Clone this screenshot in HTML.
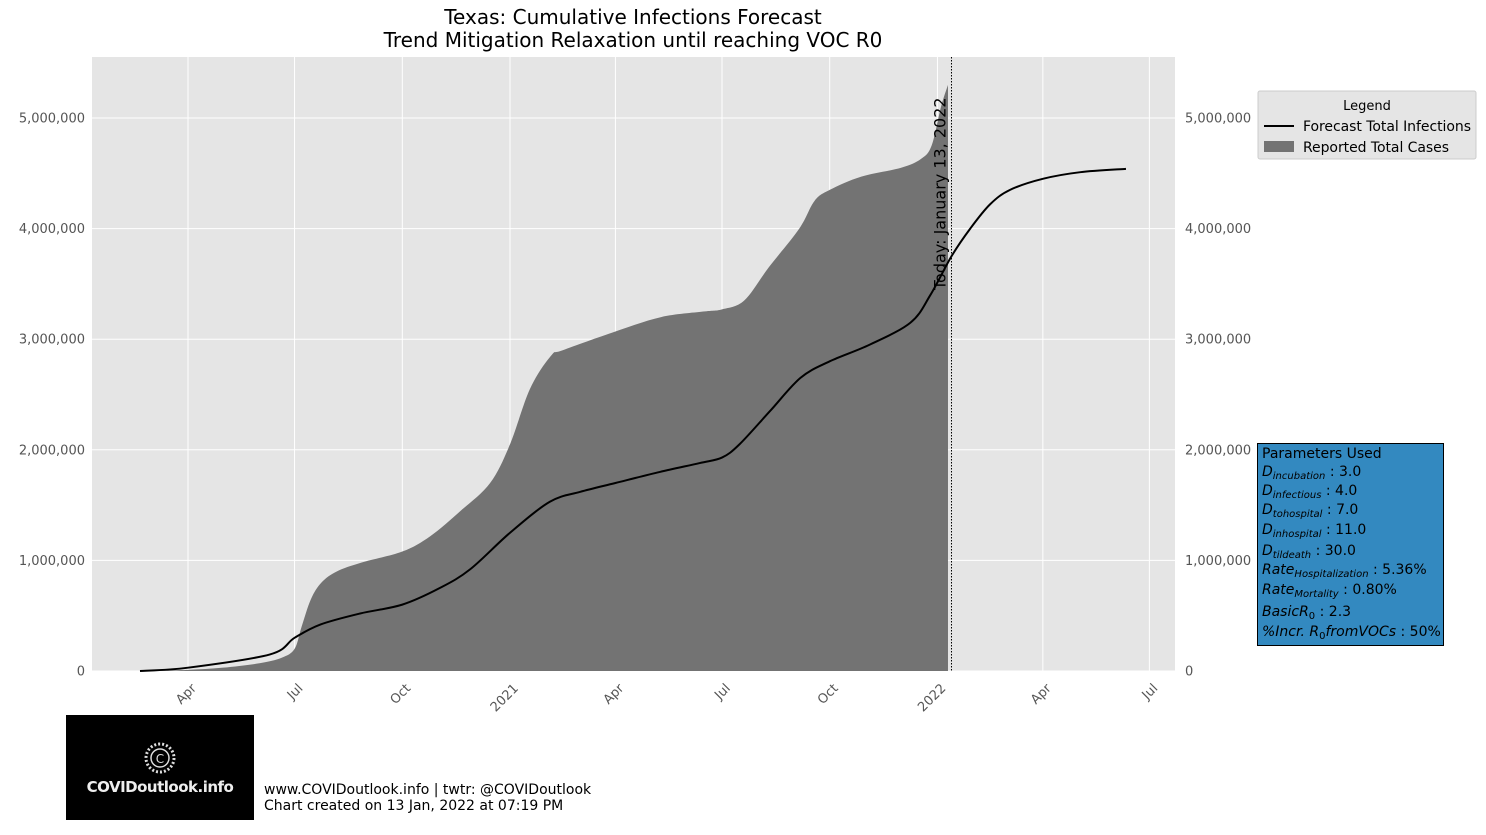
<!DOCTYPE html>
<html><head><meta charset="utf-8"><style>
body{margin:0;background:#fff;font-family:"Liberation Sans","DejaVu Sans",sans-serif}
svg text{font-family:"DejaVu Sans","Liberation Sans",sans-serif}
</style></head><body>
<svg id="chart" width="1486" height="830" xmlns="http://www.w3.org/2000/svg">
<rect width="1486" height="830" fill="#fff"/>
<text x="633" y="24" font-size="20" text-anchor="middle">Texas: Cumulative Infections Forecast</text>
<text x="633" y="47" font-size="20" text-anchor="middle">Trend Mitigation Relaxation until reaching VOC R0</text>
<rect x="92" y="57" width="1083" height="614" fill="#e5e5e5"/>
<g id="grid"></g><g id="marks"></g><g id="axes"></g>
<g>
<rect x="1258" y="91" width="218" height="68" fill="#e5e5e5" stroke="#ccc" rx="2"/>
<text x="1367" y="110" font-size="13" text-anchor="middle">Legend</text>
<line x1="1264" y1="126" x2="1294" y2="126" stroke="#000" stroke-width="2"/>
<text x="1303" y="131" font-size="14" textLength="168">Forecast Total Infections</text>
<rect x="1264" y="141" width="30" height="11" fill="#737373"/>
<text x="1303" y="152" font-size="14" textLength="146">Reported Total Cases</text>
</g>
<g font-size="14">
<rect x="1257.5" y="443.5" width="186" height="202" fill="#3389c0" stroke="#000"/>
<text x="1262" y="458">Parameters Used</text>
<text x="1262" y="476"><tspan font-style="italic">D</tspan><tspan font-style="italic" font-size="10" dy="3">incubation</tspan><tspan dy="-3"> : 3.0</tspan></text>
<text x="1262" y="495"><tspan font-style="italic">D</tspan><tspan font-style="italic" font-size="10" dy="3">infectious</tspan><tspan dy="-3"> : 4.0</tspan></text>
<text x="1262" y="514"><tspan font-style="italic">D</tspan><tspan font-style="italic" font-size="10" dy="3">tohospital</tspan><tspan dy="-3"> : 7.0</tspan></text>
<text x="1262" y="534"><tspan font-style="italic">D</tspan><tspan font-style="italic" font-size="10" dy="3">inhospital</tspan><tspan dy="-3"> : 11.0</tspan></text>
<text x="1262" y="555"><tspan font-style="italic">D</tspan><tspan font-style="italic" font-size="10" dy="3">tildeath</tspan><tspan dy="-3"> : 30.0</tspan></text>
<text x="1262" y="574"><tspan font-style="italic">Rate</tspan><tspan font-style="italic" font-size="10" dy="3">Hospitalization</tspan><tspan dy="-3"> : 5.36%</tspan></text>
<text x="1262" y="594"><tspan font-style="italic">Rate</tspan><tspan font-style="italic" font-size="10" dy="3">Mortality</tspan><tspan dy="-3"> : 0.80%</tspan></text>
<text x="1262" y="616"><tspan font-style="italic">BasicR</tspan><tspan font-size="10" dy="3">0</tspan><tspan dy="-3"> : 2.3</tspan></text>
<text x="1262" y="636"><tspan font-style="italic">%Incr. R</tspan><tspan font-size="10" dy="3">0</tspan><tspan font-style="italic" dy="-3">fromVOCs</tspan><tspan> : 50%</tspan></text>
</g>
<g>
<rect x="66" y="715" width="188" height="105" fill="#000"/>
<circle cx="160" cy="758" r="14" fill="none" stroke="#ddd" stroke-width="3" stroke-dasharray="2 2"/>
<circle cx="160" cy="758" r="9" fill="none" stroke="#ddd" stroke-width="1.5"/>
<text x="160" y="763" font-size="12" fill="#ddd" text-anchor="middle">C</text>
<text x="160" y="792" font-size="15" fill="#eee" text-anchor="middle" font-weight="bold" letter-spacing="-0.5">COVIDoutlook.info</text>
</g>
<text x="264" y="794" font-size="14">www.COVIDoutlook.info | twtr: @COVIDoutlook</text>
<text x="264" y="810" font-size="14">Chart created on 13 Jan, 2022 at 07:19 PM</text>
</svg>
<script>
const reportedDates=['2020-03-05','2020-04-01','2020-05-01','2020-06-01','2020-06-20','2020-07-01','2020-07-07','2020-07-15','2020-07-24','2020-08-06','2020-08-27','2020-10-01','2020-10-25','2020-11-20','2020-12-15','2021-01-01','2021-01-18','2021-02-05','2021-02-15','2021-04-01','2021-05-10','2021-06-15','2021-07-01','2021-07-20','2021-08-10','2021-09-05','2021-09-18','2021-10-01','2021-10-28','2021-12-01','2021-12-18','2021-12-27','2022-01-04','2022-01-10'];
const reportedValues=[0,10000,30000,70000,120000,200000,400000,650000,800000,900000,980000,1080000,1220000,1450000,1700000,2050000,2550000,2850000,2900000,3070000,3200000,3250000,3270000,3350000,3650000,4000000,4250000,4350000,4470000,4550000,4630000,4750000,5100000,5300000];
const forecastDates=['2020-02-20','2020-04-01','2020-06-10','2020-07-01','2020-07-23','2020-08-26','2020-10-01','2020-11-02','2020-11-28','2021-01-01','2021-02-04','2021-03-02','2021-04-01','2021-05-09','2021-06-12','2021-07-01','2021-07-16','2021-08-11','2021-09-06','2021-10-01','2021-11-04','2021-12-09','2021-12-26','2022-01-13','2022-01-29','2022-02-15','2022-03-04','2022-04-01','2022-05-03','2022-06-11'];
const forecastValues=[0,30000,150000,300000,420000,520000,600000,750000,920000,1250000,1530000,1620000,1700000,1800000,1880000,1930000,2050000,2350000,2650000,2800000,2950000,3150000,3400000,3750000,4000000,4220000,4350000,4450000,4510000,4540000];
const yTicks=[0,1000000,2000000,3000000,4000000,5000000];
const xTickDates=['2020-04-01','2020-07-01','2020-10-01','2021-01-01','2021-04-01','2021-07-01','2021-10-01','2022-01-01','2022-04-01','2022-07-01'];
const xTickLabels=['Apr','Jul','Oct','2021','Apr','Jul','Oct','2022','Apr','Jul'];
const todayDate='2022-01-13';
const NS='http://www.w3.org/2000/svg';
const t0=Date.parse('2020-04-01'),pxPerDay=1.171;
function xs(d){return 188+(Date.parse(d)-t0)/86400000*pxPerDay;}
function ys(v){return 671-v/1000000*110.6;}
function mk(tag,attrs,parent){const e=document.createElementNS(NS,tag);for(const k in attrs)e.setAttribute(k,attrs[k]);parent.appendChild(e);return e;}
function smooth(pts){
  let d=`M${pts[0][0]},${pts[0][1]}`;
  for(let i=0;i<pts.length-1;i++){
    const p0=pts[Math.max(0,i-1)],p1=pts[i],p2=pts[i+1],p3=pts[Math.min(pts.length-1,i+2)];
    const c1=[p1[0]+(p2[0]-p0[0])/6,p1[1]+(p2[1]-p0[1])/6];
    const c2=[p2[0]-(p3[0]-p1[0])/6,p2[1]-(p3[1]-p1[1])/6];
    d+=`C${c1[0]},${c1[1]} ${c2[0]},${c2[1]} ${p2[0]},${p2[1]}`;
  }
  return d;
}
const grid=document.getElementById('grid'),marks=document.getElementById('marks'),axes=document.getElementById('axes');
yTicks.forEach(v=>{
  const l=mk('line',{x1:92,x2:1175,y1:ys(v),y2:ys(v),stroke:'#fff','stroke-width':1},grid);
  
  
  const lab=v.toLocaleString('en-US');
  const t=mk('text',{x:85,y:ys(v)+4.5,'font-size':13,fill:'#555','text-anchor':'end'},axes);t.textContent=lab;
  
  
  const t2=mk('text',{x:1185,y:ys(v)+4.5,'font-size':13,fill:'#555'},axes);t2.textContent=lab;
  
  
});
xTickDates.forEach((d,i)=>{
  const x=xs(d);
  const l=mk('line',{x1:x,x2:x,y1:57,y2:671,stroke:'#fff','stroke-width':1},grid);
  
  
  const ax=x+9,ay=689;
  const t=mk('text',{x:ax,y:ay,'font-size':13,fill:'#555','text-anchor':'end',transform:`rotate(-45 ${ax} ${ay})`},axes);t.textContent=xTickLabels[i];
  
  
});
const rpts=reportedDates.map((d,i)=>[xs(d),ys(reportedValues[i])]);
const last=rpts[rpts.length-1];
const area=mk('path',{d:smooth(rpts)+`L${last[0]},671L${rpts[0][0]},671Z`,fill:'#737373'},marks);


const fpts=forecastDates.map((d,i)=>[xs(d),ys(forecastValues[i])]);
const line=mk('path',{d:smooth(fpts),fill:'none',stroke:'#000','stroke-width':2,'stroke-linejoin':'round'},marks);


const tx=xs(todayDate);
const tl=mk('line',{x1:tx,x2:tx,y1:57,y2:671,stroke:'#000','stroke-width':1,'stroke-dasharray':'1.5 1.5'},marks);


const tt=mk('text',{x:tx-6,y:290,'font-size':16,transform:`rotate(-90 ${tx-6} 290)`},marks);tt.textContent='Today: January 13, 2022';


</script>
</body></html>
